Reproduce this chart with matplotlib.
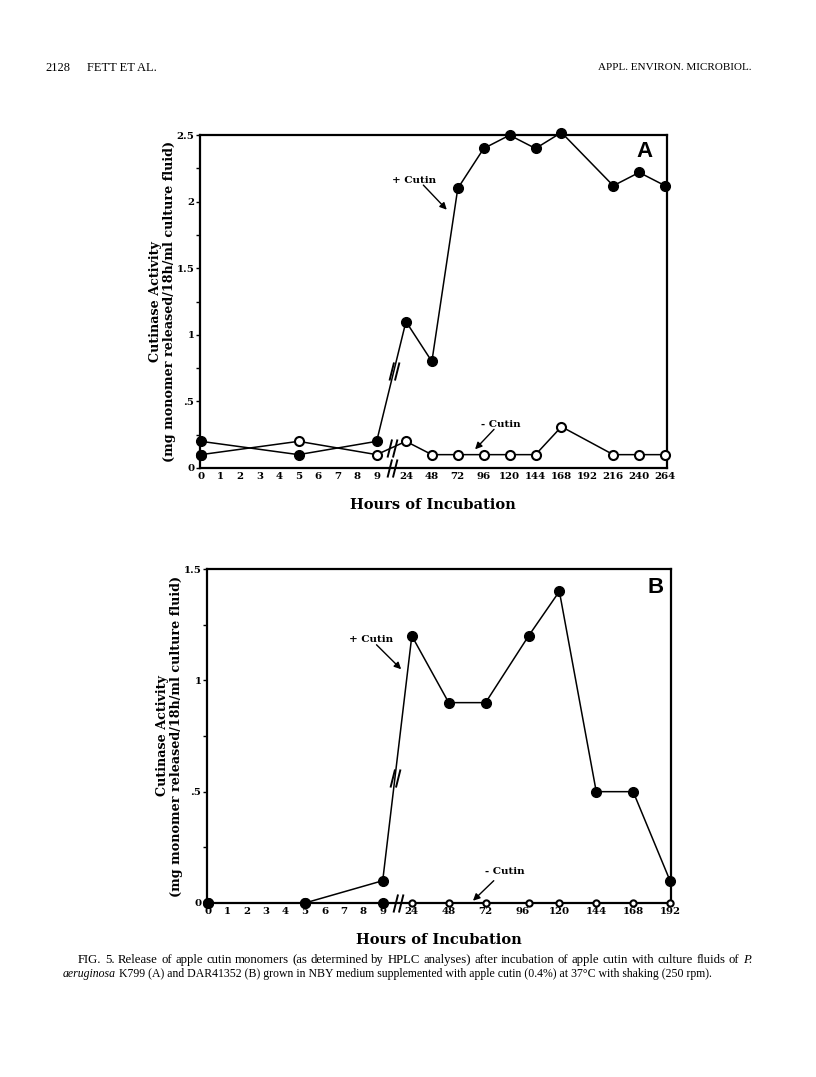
#!/usr/bin/env python3
"""
Cutinase activity over incubation time (Fig. 5, panels A and B).
"""

import matplotlib
matplotlib.use('Agg')
import matplotlib.pyplot as plt
from matplotlib.path import Path

# Panel A: P. aeruginosa K799
hours_a = [0, 5, 9, 24, 48, 72, 96, 120, 144, 168, 216, 240, 264]
plus_a = [0.2, 0.1, 0.2, 1.1, 0.8, 2.1, 2.4, 2.5, 2.4, 2.52, 2.12, 2.22, 2.12]
minus_a = [0.1, 0.2, 0.1, 0.2, 0.1, 0.1, 0.1, 0.1, 0.1, 0.31, 0.1, 0.1, 0.1]
ticks_a = [0, 1, 2, 3, 4, 5, 6, 7, 8, 9, 24, 48, 72, 96, 120, 144, 168,
           192, 216, 240, 264]

# Panel B: DAR41352
hours_b = [0, 5, 9, 24, 48, 72, 100, 120, 144, 168, 192]
plus_b = [0.0, 0.0, 0.1, 1.2, 0.9, 0.9, 1.2, 1.4, 0.5, 0.5, 0.1]
minus_b = [0.0, 0.0, 0.0, 0.0, 0.0, 0.0, 0.0, 0.0, 0.0, 0.0, 0.0]
ticks_b = [0, 1, 2, 3, 4, 5, 6, 7, 8, 9, 24, 48, 72, 96, 120, 144, 168, 192]

SERIF = 'DejaVu Serif'
CAPTION = 'Liberation Serif'

# "//" break symbol
BREAK = Path([(-0.55, -1.0), (-0.05, 1.0), (0.05, -1.0), (0.55, 1.0)],
             [Path.MOVETO, Path.LINETO, Path.MOVETO, Path.LINETO])


def to_pos(h, step):
    """Map hours onto the broken axis: 0-9 linear, then one slot per 24 h."""
    if h <= 9:
        return h
    return 10.5 + (h - 24) / 24.0 * step


def y_fmt(v):
    if v == 0:
        return '0'
    s = f'{v:g}'
    return s[1:] if s.startswith('0.') else s


def draw_panel(ax, hours, plus, minus, ticks, step, ymax, minus_ms,
               n_filled, letter, letter_xy, breaks, plus_lbl, minus_lbl):
    xp = [to_pos(h, step) for h in hours]

    ax.plot(xp, minus, color='black', lw=1.1, marker='o', ms=minus_ms,
            mfc='white', mec='black', mew=1.5, clip_on=False, zorder=3)
    # the early -Cutin points are printed as solid dots
    ax.plot(xp[:n_filled], minus[:n_filled], linestyle='none', marker='o',
            ms=7, color='black', clip_on=False, zorder=3)
    ax.plot(xp, plus, color='black', lw=1.1, marker='o', ms=7,
            mfc='black', mec='black', clip_on=False, zorder=4)

    for bx, by in breaks:
        ax.plot([bx], [by], marker=BREAK, ms=13, color='black', mew=1.4,
                linestyle='none', clip_on=False, zorder=5)

    ax.set_xlim(-0.05, 23.85)
    ax.set_ylim(0, ymax)
    ax.set_xticks([to_pos(t, step) for t in ticks])
    ax.set_xticklabels([str(t) for t in ticks], fontfamily=SERIF,
                       fontweight='bold', fontsize=7.4)
    major = [i * 0.5 for i in range(int(ymax / 0.5) + 1)]
    ax.set_yticks(major)
    ax.set_yticklabels([y_fmt(v) for v in major], fontfamily=SERIF,
                       fontweight='bold', fontsize=7.4)
    ax.set_yticks([v + 0.25 for v in major[:-1]], minor=True)
    ax.tick_params(axis='x', length=0, pad=3)
    ax.tick_params(axis='y', which='both', length=3, width=1, pad=1)

    for sp in ax.spines.values():
        sp.set_linewidth(1.6)

    ax.set_xlabel('Hours of Incubation', fontfamily=SERIF,
                  fontweight='bold', fontsize=10.5, labelpad=12)
    ax.text(-0.08, 0.5, 'Cutinase Activity\n'
            '(mg monomer released/18h/ml culture fluid)',
            transform=ax.transAxes, rotation=90, ha='center', va='center',
            fontfamily=SERIF, fontweight='bold', fontsize=9.2,
            linespacing=1.1)
    ax.text(letter_xy[0], letter_xy[1], letter, transform=ax.transAxes,
            ha='center', va='center', fontfamily='Liberation Sans',
            fontweight='bold', fontsize=16)

    for txt, txy, start, tip in (plus_lbl, minus_lbl):
        ax.text(txy[0], txy[1], txt, ha='center', va='center',
                fontfamily=SERIF, fontweight='bold', fontsize=7.5)
        ax.annotate('', xy=tip, xytext=start,
                    arrowprops=dict(arrowstyle='-|>', color='black', lw=1.0,
                                    mutation_scale=10, shrinkA=0, shrinkB=0))


def justified_line(fig, words, x0, x1, y, **kw):
    """Spread words evenly between x0 and x1 (pixels), like a typeset line."""
    renderer = fig.canvas.get_renderer()
    arts = []
    for w, style in words:
        t = fig.text(0, 0, w, style=style, va='center', **kw)
        arts.append(t)
    widths = [t.get_window_extent(renderer).width for t in arts]
    gap = (x1 - x0 - sum(widths)) / max(len(arts) - 1, 1)
    x = x0
    for t, wd in zip(arts, widths):
        t.set_position((x / 816, 1 - y / 1077))
        x += wd + gap


fig = plt.figure(figsize=(8.16, 10.77), dpi=100)

ax_a = fig.add_axes([0.245, 0.5655, 0.572, 0.309])
draw_panel(ax_a, hours_a, plus_a, minus_a, ticks_a, step=1.327, ymax=2.5,
           minus_ms=6.5, n_filled=1, letter='A', letter_xy=(0.953, 0.952),
           breaks=[(9.88, 0.73), (9.79, 0.153), (9.79, 0.0)],
           plus_lbl=('+ Cutin', (10.92, 2.16), (11.39, 2.125), (12.59, 1.94)),
           minus_lbl=('- Cutin', (15.36, 0.33), (15.01, 0.29), (14.04, 0.14)))

ax_b = fig.add_axes([0.2537, 0.1616, 0.5686, 0.310])
draw_panel(ax_b, hours_b, plus_b, minus_b, ticks_b, step=1.9, ymax=1.5,
           minus_ms=4.5, n_filled=3, letter='B', letter_xy=(0.966, 0.946),
           breaks=[(9.64, 0.563), (9.77, 0.0)],
           plus_lbl=('+ Cutin', (8.39, 1.185), (8.68, 1.16), (9.95, 1.05)),
           minus_lbl=('- Cutin', (15.3, 0.142), (14.72, 0.1), (13.65, 0.01)))

# running header
fig.text(45 / 816, 1 - 68 / 1077, '2128', fontfamily=CAPTION, fontsize=9,
         va='center')
fig.text(87 / 816, 1 - 68 / 1077, 'FETT ET AL.', fontfamily=CAPTION,
         fontsize=9, va='center')
fig.text(752 / 816, 1 - 68 / 1077, 'APPL. ENVIRON. MICROBIOL.',
         fontfamily=CAPTION, fontsize=8, va='center', ha='right')

# caption
line1 = ('FIG. 5. Release of apple cutin monomers (as determined by HPLC '
         'analyses) after incubation of apple cutin with culture fluids of')
words1 = [(w, 'normal') for w in line1.split()] + [('P.', 'italic')]
justified_line(fig, words1, 78, 752, 960, fontfamily=CAPTION, fontsize=9.2)

cap_kw = dict(fontfamily=CAPTION, fontsize=8.5)
cap2 = fig.text(63 / 816, 1 - 974 / 1077, 'aeruginosa', style='italic',
                va='center', **cap_kw)
plt.annotate(' K799 (A) and DAR41352 (B) grown in NBY medium supplemented '
             'with apple cutin (0.4%) at 37°C with shaking (250 rpm).',
             xy=(1, 0.5), xycoords=cap2, va='center', ha='left',
             annotation_clip=False, **cap_kw)

fig.savefig('out.png', dpi=100)
